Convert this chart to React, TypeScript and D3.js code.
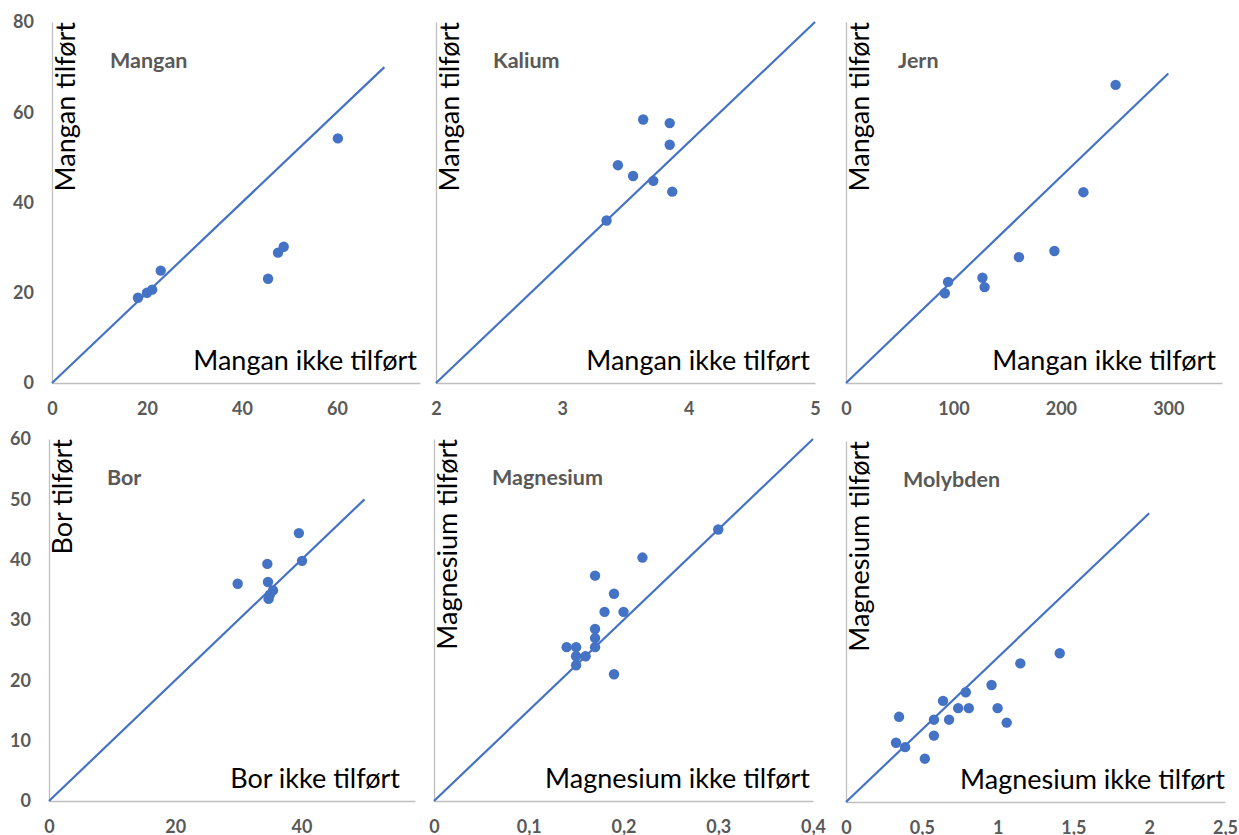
import React, { useEffect, useRef } from 'react';
import * as d3 from 'd3';

// Mangan
const manganIkke = [18.1, 20.0, 21.1, 22.9, 45.5, 47.6, 48.8, 60.2];
const manganTilfort = [18.9, 20.0, 20.7, 24.9, 23.1, 28.9, 30.2, 54.2];
// Kalium
const kaliumIkke = [3.64, 3.85, 3.85, 3.44, 3.56, 3.72, 3.87, 3.35];
const kaliumTilfort = [4.19, 4.16, 3.98, 3.81, 3.72, 3.68, 3.59, 3.35];
// Jern
const jernIkke = [251, 221, 194, 161, 127, 129, 95, 92];
const jernTilfort = [289, 185, 128, 122, 102, 93, 98, 87];
// Bor
const borIkke = [39.6, 40.1, 34.6, 29.9, 34.7, 35.5, 35.0, 34.8];
const borTilfort = [44.4, 39.8, 39.3, 36.0, 36.3, 34.9, 34.2, 33.5];
// Magnesium
const magnesiumIkke = [0.3, 0.22, 0.17, 0.19, 0.18, 0.2, 0.17, 0.17, 0.17, 0.14, 0.15, 0.15, 0.16, 0.15, 0.19];
const magnesiumTilfort = [0.3, 0.269, 0.249, 0.229, 0.209, 0.209, 0.19, 0.18, 0.17, 0.17, 0.17, 0.16, 0.16, 0.15, 0.14];
// Molybden
const molybdenIkke = [1.41, 1.15, 0.96, 0.79, 0.64, 0.74, 0.81, 1.0, 0.35, 0.58, 0.68, 1.06, 0.58, 0.33, 0.39, 0.52];
const molybdenTilfort = [1.03, 0.96, 0.81, 0.76, 0.7, 0.65, 0.65, 0.65, 0.59, 0.57, 0.57, 0.55, 0.46, 0.41, 0.38, 0.3];

// tick labels
const manganXTicks = [0, 20, 40, 60];
const manganYTicks = [0, 20, 40, 60, 80];
const kaliumXTicks = [2, 3, 4, 5];
const jernXTicks = [0, 100, 200, 300];
const borXTicks = [0, 20, 40];
const borYTicks = [0, 10, 20, 30, 40, 50, 60];
const magnesiumXTicks = [0, 0.1, 0.2, 0.3, 0.4];
const molybdenXTicks = [0, 0.5, 1, 1.5, 2, 2.5];

const blue = '#4472C4';
const gray = '#595959';
const axisGray = '#BFBFBF';
const font = 'Lato, "Open Sans", sans-serif';

const fmt = d3.formatLocale({ decimal: ',', thousands: ' ', grouping: [3], currency: ['', ''] }).format('~g');

const panels = [
  {
    title: 'Mangan', xLabel: 'Mangan ikke tilført', yLabel: 'Mangan tilført',
    xs: manganIkke, ys: manganTilfort, xDomain: [0, 77.5], yDomain: [0, 80],
    xTicks: manganXTicks, yTicks: manganYTicks, line: [0, 70],
    box: { left: 52, right: 420, top: 22, bottom: 383 }, titleX: 110, xLabelEnd: 417,
  },
  {
    title: 'Kalium', xLabel: 'Mangan ikke tilført', yLabel: 'Mangan tilført',
    xs: kaliumIkke, ys: kaliumTilfort, xDomain: [2, 5], yDomain: [2, 5],
    xTicks: kaliumXTicks, yTicks: null, line: [2, 5],
    box: { left: 436, right: 815, top: 22, bottom: 383 }, titleX: 493, xLabelEnd: 810,
  },
  {
    title: 'Jern', xLabel: 'Mangan ikke tilført', yLabel: 'Mangan tilført',
    xs: jernIkke, ys: jernTilfort, xDomain: [0, 350], yDomain: [0, 350],
    xTicks: jernXTicks, yTicks: null, line: [0, 300],
    box: { left: 846, right: 1222, top: 22, bottom: 383 }, titleX: 898, xLabelEnd: 1216,
  },
  {
    title: 'Bor', xLabel: 'Bor ikke tilført', yLabel: 'Bor tilført',
    xs: borIkke, ys: borTilfort, xDomain: [0, 58], yDomain: [0, 60],
    xTicks: borXTicks, yTicks: borYTicks, line: [0, 50],
    box: { left: 49, right: 415, top: 439, bottom: 801 }, titleX: 107, xLabelEnd: 400,
  },
  {
    title: 'Magnesium', xLabel: 'Magnesium ikke tilført', yLabel: 'Magnesium tilført',
    xs: magnesiumIkke, ys: magnesiumTilfort, xDomain: [0, 0.4], yDomain: [0, 0.4],
    xTicks: magnesiumXTicks, yTicks: null, line: [0, 0.4],
    box: { left: 434, right: 813, top: 439, bottom: 801 }, titleX: 492, xLabelEnd: 810,
  },
  {
    title: 'Molybden', xLabel: 'Magnesium ikke tilført', yLabel: 'Magnesium tilført',
    xs: molybdenIkke, ys: molybdenTilfort, xDomain: [0, 2.5], yDomain: [0, 2.5],
    xTicks: molybdenXTicks, yTicks: null, line: [0, 2],
    box: { left: 846, right: 1225, top: 441, bottom: 802 }, titleX: 903, xLabelEnd: 1225,
  },
];

export default function App() {
  const svgRef = useRef<SVGSVGElement>(null);

  useEffect(() => {
    const svg = d3.select(svgRef.current);
    svg.selectAll('*').remove();

    panels.forEach((p) => {
      const { left, right, top, bottom } = p.box;
      const x = d3.scaleLinear().domain(p.xDomain).range([left, right]);
      const y = d3.scaleLinear().domain(p.yDomain).range([bottom, top]);
      const g = svg.append('g');

      // x axis
      const xa = g.append('g')
        .attr('transform', `translate(0,${bottom})`)
        .call(d3.axisBottom(x).tickValues(p.xTicks).tickSize(0).tickPadding(19).tickFormat((d: any) => fmt(d)));
      xa.select('.domain').attr('stroke', axisGray).attr('stroke-width', 1.3);
      xa.selectAll('text').attr('fill', gray).attr('font-size', 18).attr('font-weight', 'bold').attr('font-family', font);

      // y axis
      const ya = g.append('g')
        .attr('transform', `translate(${left},0)`)
        .call(d3.axisLeft(y).tickValues(p.yTicks || []).tickSize(0).tickPadding(18).tickFormat((d: any) => fmt(d)));
      ya.select('.domain').attr('stroke', axisGray).attr('stroke-width', 1.3);
      ya.selectAll('text').attr('fill', gray).attr('font-size', 18).attr('font-weight', 'bold').attr('font-family', font);

      // 1:1 line
      g.append('line')
        .attr('x1', x(p.line[0])).attr('y1', y(p.line[0]))
        .attr('x2', x(p.line[1])).attr('y2', y(p.line[1]))
        .attr('stroke', blue).attr('stroke-width', 2.2);

      // points
      g.selectAll('circle.pt')
        .data(p.xs.map((v, i) => [v, p.ys[i]]))
        .enter()
        .append('circle')
        .attr('class', 'pt')
        .attr('cx', (d) => x(d[0]))
        .attr('cy', (d) => y(d[1]))
        .attr('r', 5.2)
        .attr('fill', blue);

      // title
      g.append('text')
        .text(p.title)
        .attr('x', p.titleX).attr('y', top + 46)
        .attr('fill', gray).attr('font-size', 21.5).attr('font-weight', 'bold').attr('font-family', font);

      // x label
      g.append('text')
        .text(p.xLabel)
        .attr('x', p.xLabelEnd).attr('y', bottom - 13)
        .attr('text-anchor', 'end')
        .attr('fill', 'black').attr('font-size', 27).attr('font-family', font);

      // y label
      g.append('text')
        .text(p.yLabel)
        .attr('transform', `translate(${left + 23},${top}) rotate(-90)`)
        .attr('text-anchor', 'end')
        .attr('fill', 'black').attr('font-size', 27).attr('font-family', font);
    });
  }, []);

  return (
    <svg
      ref={svgRef}
      width={1239}
      height={835}
      style={{ position: 'absolute', left: 0, top: 0, background: 'white' }}
    />
  );
}
